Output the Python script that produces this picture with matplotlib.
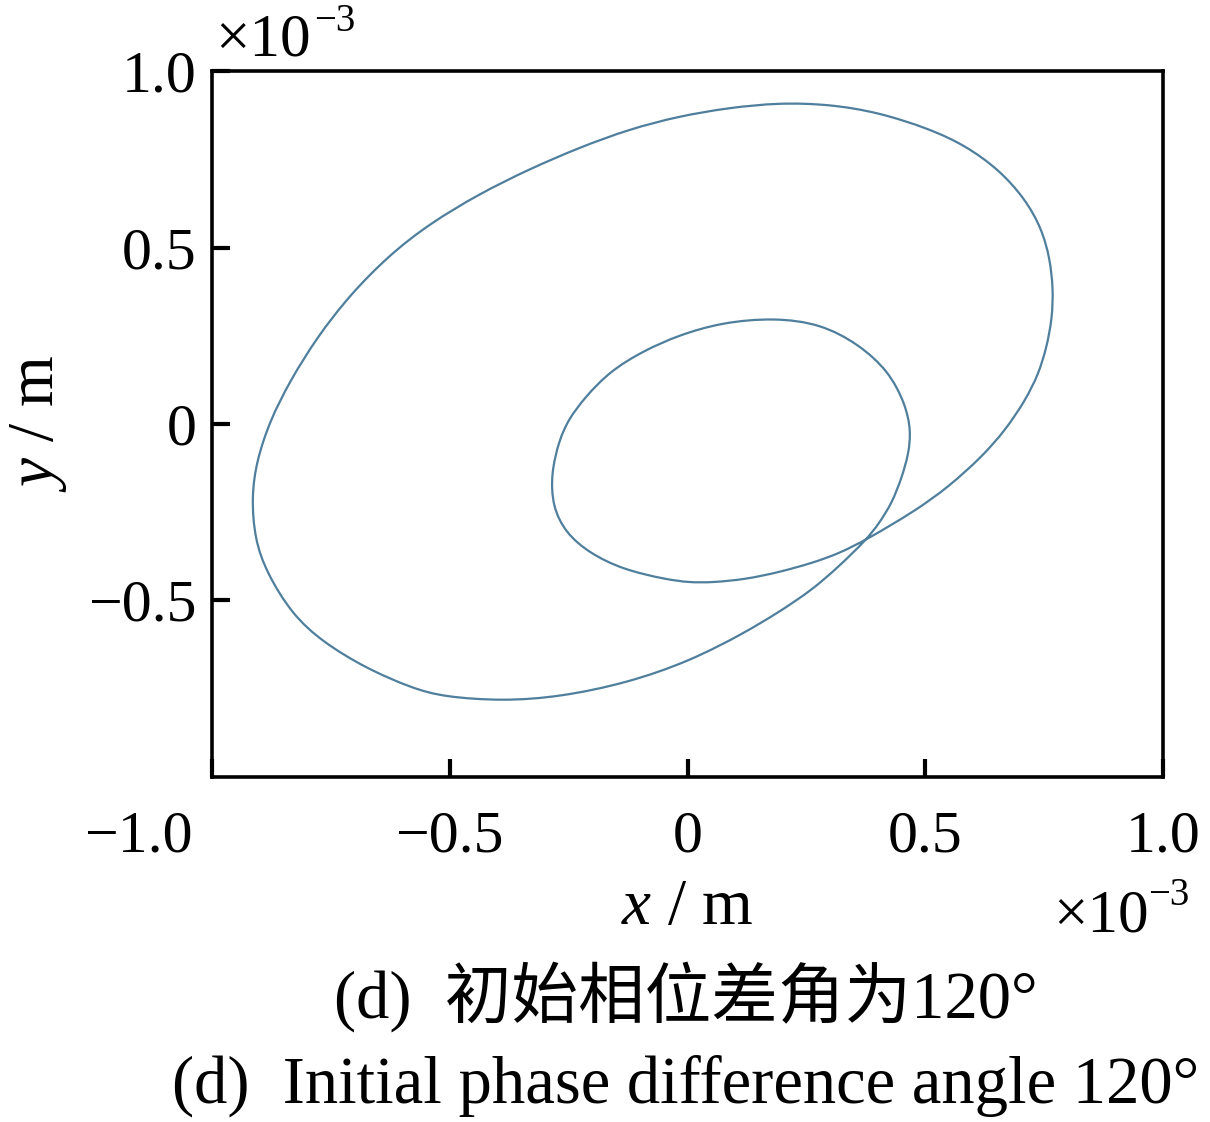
import matplotlib
matplotlib.use("Agg")
import matplotlib.pyplot as plt
import matplotlib.transforms as mtransforms
from matplotlib.path import Path
from matplotlib.patches import PathPatch
import numpy as np

# Trajectory points (units: 1e-3 m)
x_vals = [-0.018, 0.087, 0.192, 0.297, 0.402, 0.511, 0.584, 0.654, 0.710, 0.745,
          0.762, 0.769, 0.767, 0.755, 0.738, 0.710, 0.668, 0.619, 0.549, 0.479,
          0.376, 0.318, 0.262, 0.192, 0.122, 0.052, 0.003, -0.046, -0.137, -0.207,
          -0.256, -0.284, -0.287, -0.270, -0.250, -0.216, -0.163, -0.093, -0.018, 0.073,
          0.182, 0.280, 0.360, 0.423, 0.458, 0.470, 0.465, 0.451, 0.430, 0.402,
          0.376, 0.318, 0.262, 0.192, 0.122, 0.005, -0.128, -0.268, -0.387, -0.513,
          -0.578, -0.675, -0.767, -0.832, -0.885, -0.910, -0.917, -0.906, -0.878, -0.836,
          -0.780, -0.710, -0.627, -0.543, -0.438, -0.333, -0.228, -0.123, -0.018]
y_vals = [0.872, 0.896, 0.910, 0.906, 0.883, 0.835, 0.789, 0.722, 0.638, 0.553,
          0.469, 0.385, 0.300, 0.216, 0.141, 0.066, -0.018, -0.093, -0.178, -0.246,
          -0.328, -0.367, -0.394, -0.420, -0.440, -0.449, -0.449, -0.440, -0.412, -0.365,
          -0.309, -0.234, -0.140, -0.046, 0.014, 0.075, 0.150, 0.207, 0.252, 0.288,
          0.301, 0.284, 0.226, 0.150, 0.057, -0.018, -0.084, -0.150, -0.224, -0.283,
          -0.328, -0.404, -0.470, -0.533, -0.590, -0.672, -0.734, -0.773, -0.785, -0.773,
          -0.749, -0.693, -0.618, -0.539, -0.421, -0.328, -0.206, -0.103, 0.010, 0.122,
          0.244, 0.366, 0.479, 0.567, 0.652, 0.722, 0.783, 0.835, 0.872]

x_ticks = [-1.0, -0.5, 0.0, 0.5, 1.0]
x_tick_labels = ["\u22121.0", "\u22120.5", "0", "0.5", "1.0"]
y_ticks = [-0.5, 0.0, 0.5, 1.0]
y_tick_labels = ["\u22120.5", "0", "0.5", "1.0"]

plt.rcParams['font.family'] = ['Liberation Serif', 'Noto Sans CJK SC', 'DejaVu Sans']
plt.rcParams['mathtext.fontset'] = 'custom'
plt.rcParams['mathtext.rm'] = 'Liberation Serif'
plt.rcParams['mathtext.it'] = 'Liberation Serif:italic'

FS_TICK = 43
FS_LAB = 47
FS_CAP = 48
FS_EXP = 44
FS_SUP = 28


def smooth_closed_path(xs, ys):
    """Closed uniform cubic B-spline with the data points as control points,
    written as cubic Bezier segments (a smooth rendering of the traced points)."""
    P = np.column_stack([xs, ys])[:-1]  # last point repeats the first
    n = len(P)

    def knot(i):
        return (P[(i - 1) % n] + 4 * P[i % n] + P[(i + 1) % n]) / 6.0

    verts = [knot(0)]
    codes = [Path.MOVETO]
    for i in range(n):
        a, b = P[i % n], P[(i + 1) % n]
        verts += [(2 * a + b) / 3.0, (a + 2 * b) / 3.0, knot(i + 1)]
        codes += [Path.CURVE4] * 3
    return Path(np.array(verts), codes)


fig = plt.figure(figsize=(12.1, 11.22), dpi=100)
ax = fig.add_axes([0.1752, 0.3075, 0.786, 0.6292])
ax.add_patch(PathPatch(smooth_closed_path(x_vals, y_vals), facecolor='none',
                       edgecolor='#4f7f9c', lw=1.6))
ax.set_xlim(-1, 1)
ax.set_ylim(-1, 1)

ax.set_xticks(x_ticks)
ax.set_xticklabels(x_tick_labels)
ax.set_yticks(y_ticks)
ax.set_yticklabels(y_tick_labels)
ax.tick_params(direction='in', length=13, width=3, labelsize=FS_TICK,
               top=False, right=False)
ax.tick_params(axis='x', pad=24)
ax.tick_params(axis='y', pad=11)
for s in ax.spines.values():
    s.set_linewidth(2.6)

# shift the -1.0 x label leftwards like the reference
lab0 = ax.get_xticklabels()[0]
lab0.set_transform(lab0.get_transform() + mtransforms.ScaledTranslation(-0.74, 0, fig.dpi_scale_trans))

ax.set_xlabel(r'$x$ / m', fontsize=FS_LAB, labelpad=10)
ax.set_ylabel(r'$y$ / m', fontsize=FS_LAB, labelpad=14)


def fx(px):
    return px / 1210


def fy(py):
    return 1 - py / 1122


# exponent markers
fig.text(fx(215), fy(56), "\u00d710", fontsize=FS_EXP, ha='left', va='baseline')
fig.text(fx(314), fy(31), "\u22123", fontsize=FS_SUP, ha='left', va='baseline')
fig.text(fx(1053), fy(932), "\u00d710", fontsize=FS_EXP, ha='left', va='baseline')
fig.text(fx(1148), fy(905), "\u22123", fontsize=FS_SUP, ha='left', va='baseline')

fig.text(0.567, fy(1018), "(d)  初始相位差角为120°", fontsize=FS_CAP, ha='center', va='baseline')
fig.text(0.567, fy(1103), "(d)  Initial phase difference angle 120°", fontsize=FS_CAP,
         ha='center', va='baseline')

fig.savefig('out.png', dpi=100)
